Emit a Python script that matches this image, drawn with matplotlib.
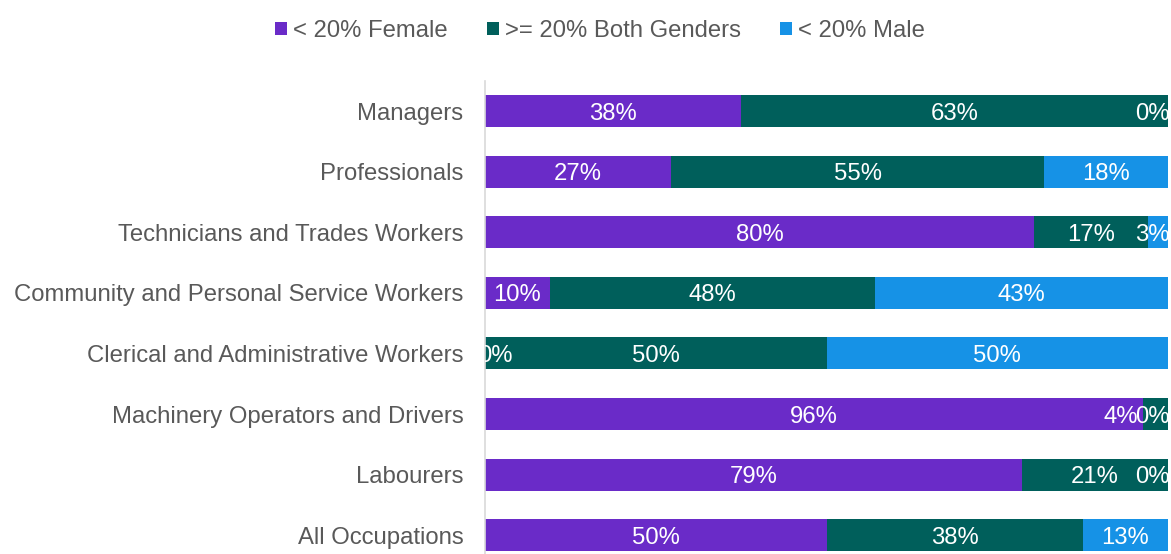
import numpy as np
import matplotlib.pyplot as plt
from matplotlib.patches import Patch

plt.rcParams['font.family'] = ['Liberation Sans', 'DejaVu Sans']

categories = ['Managers', 'Professionals', 'Technicians and Trades Workers',
              'Community and Personal Service Workers',
              'Clerical and Administrative Workers',
              'Machinery Operators and Drivers', 'Labourers', 'All Occupations']
female = [37.5, 27.3, 80.4, 9.5, 0.0, 96.3, 78.6, 50.0]
both = [62.5, 54.5, 16.7, 47.6, 50.0, 3.7, 21.4, 37.5]
male = [0.0, 18.2, 2.9, 42.9, 50.0, 0.0, 0.0, 12.5]
series_names = ['< 20% Female', '>= 20% Both Genders', '< 20% Male']
colors = ['#6A2BC8', '#005F5B', '#1692E6']

FS = 17.2
W, H = 1171, 554
fig = plt.figure(figsize=(W / 100, H / 100), dpi=100)
ax_l, ax_r = 485 / W, 1168 / W
ax_top, ax_bot = 80.7 / H, 565.5 / H
ax = fig.add_axes([ax_l, 1 - ax_bot, ax_r - ax_l, ax_bot - ax_top])

y = np.arange(len(categories))
left = np.zeros(len(categories))
series = [female, both, male]
for vals, c in zip(series, colors):
    ax.barh(y, vals, left=left, height=0.53, color=c)
    left += np.array(vals)

ax.set_xlim(0, 100)
ax.set_ylim(len(categories) - 0.5, -0.5)
ax.set_yticks(y)
ax.set_yticklabels(categories, fontsize=FS, color='#595959')
ax.tick_params(axis='y', length=0, pad=15.5)
ax.set_xticks([])
for s in ['top', 'right', 'bottom']:
    ax.spines[s].set_visible(False)
ax.spines['left'].set_color('#d9d9d9')
ax.spines['left'].set_linewidth(1.2)

# data labels, centred in each segment but pushed inside the plot area
# and kept from overlapping (right to left)
renderer = fig.canvas.get_renderer()
px_per_unit = (ax_r - ax_l) * W / 100
for i in range(len(categories)):
    starts = np.cumsum([0] + [s[i] for s in series[:-1]])
    limit = 100.3
    for k in range(len(series) - 1, -1, -1):
        v = series[k][i]
        lab = '%d%%' % int(np.floor(v + 0.5))
        t = ax.text(starts[k] + v / 2, i, lab, ha='center', va='center_baseline',
                    fontsize=FS, color='white', clip_on=False)
        w = t.get_window_extent(renderer).width / px_per_unit
        cx = starts[k] + v / 2
        if cx + w / 2 > limit:
            cx = limit - w / 2
        if cx - w / 2 < -1.0:
            cx = -1.0 + w / 2
            t.set_clip_on(True)
        t.set_x(cx)
        limit = cx - w / 2 + 0.3

handles = [Patch(facecolor=c) for c in colors]
fig.legend(handles, series_names, loc='center', bbox_to_anchor=(600 / W, 1 - 31 / H),
           ncol=3, frameon=False, fontsize=FS, labelcolor='#595959',
           handlelength=0.5, handleheight=0.5, handletextpad=0.25,
           columnspacing=1.65)

fig.savefig('out.png', dpi=100)
